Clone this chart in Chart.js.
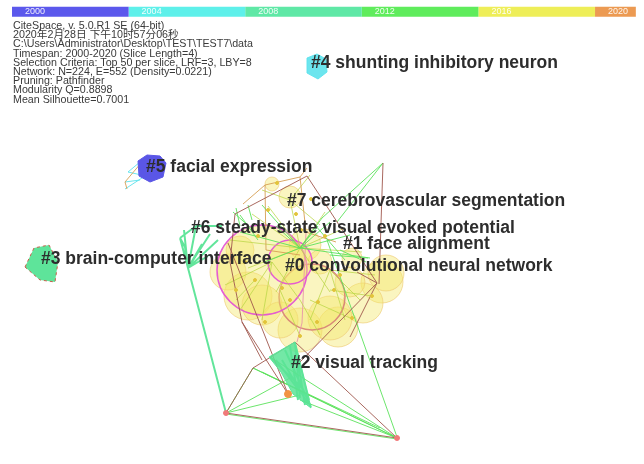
<!DOCTYPE html>
<html>
<head>
<meta charset="utf-8">
<script src="https://cdn.jsdelivr.net/npm/chart.js@4.4.1/dist/chart.umd.min.js"></script>
<style>
  html, body { margin: 0; padding: 0; background: #ffffff; }
  #wrap { width: 644px; height: 464px; }
</style>
</head>
<body>
<div id="wrap"><canvas id="net" width="644" height="464"></canvas></div>
<script>
// ── Time slices (header strip) ────────────────────────────────────────────────
const sliceYears  = [2000, 2004, 2008, 2012, 2016, 2020];
const sliceEnds   = [2004, 2008, 2012, 2016, 2020, 2021.4];
const sliceColors = ['#5b58ec', '#5ef0ea', '#5fe8a6', '#5fec5c', '#eeee58', '#ec9a52'];

// ── Run summary ───────────────────────────────────────────────────────────────
const infoLines = [
  'CiteSpace, v. 5.0.R1 SE (64-bit)',
  '2020年2月28日 下午10时57分06秒',
  'C:\\Users\\Administrator\\Desktop\\TEST\\TEST7\\data',
  'Timespan: 2000-2020 (Slice Length=4)',
  'Selection Criteria: Top 50 per slice, LRF=3, LBY=8',
  'Network: N=224, E=552 (Density=0.0221)',
  'Pruning: Pathfinder',
  'Modularity Q=0.8898',
  'Mean Silhouette=0.7001',
];

// ── Cluster labels: [text, layout x, layout y] ───────────────────────────────
const clusterLabels = [
  ['#4 shunting inhibitory neuron', 311, 63],
  ['#5 facial expression', 146, 167],
  ['#7 cerebrovascular segmentation', 287, 201],
  ['#6 steady-state visual evoked potential', 191, 228],
  ['#1 face alignment', 343, 244],
  ['#3 brain-computer interface', 41, 259],
  ['#0 convolutional neural network', 285, 266],
  ['#2 visual tracking', 291, 363],
];

// ── Cluster hulls (layout coordinates) ───────────────────────────────────────
const hull4 = [[307, 58], [317, 54], [326, 59], [327, 72], [318, 79], [307, 73]];
const hull5 = [[138, 161], [147, 155], [160, 156], [166, 163], [163, 177], [150, 182], [139, 176]];
const hull3 = [[25, 267], [34, 248], [49, 245], [58, 262], [55, 282], [40, 280]];
const hull2 = [[269, 357], [295, 342], [311, 408], [293, 394], [281, 372]];

// ── Co-citation nodes: [x, y, size] ──────────────────────────────────────────
const nodesMagenta = [[262, 270, 45], [290, 262, 22]];
const nodesRose    = [[312, 297, 33]];
const nodesYellow  = [
  [382, 282, 21], [363, 303, 20], [338, 327, 20], [300, 330, 22], [330, 318, 22],
  [248, 296, 24], [386, 273, 18], [290, 197, 11], [272, 184, 7], [305, 245, 16],
  [350, 282, 15], [228, 272, 18], [320, 262, 12], [262, 305, 20], [352, 258, 10],
  [280, 320, 18], [240, 250, 14],
];
const nodesSmall   = [
  [277, 183], [268, 210], [296, 214], [311, 199], [301, 230], [258, 236], [325, 236],
  [245, 262], [282, 288], [318, 302], [340, 275], [265, 322], [300, 336], [372, 296],
  [236, 290], [290, 300], [352, 318], [317, 322], [255, 280], [334, 290],
];
const nodesRed     = [[226, 413], [397, 438]];
const nodesOrange  = [[288, 394]];

// ── Links: [x1, y1, x2, y2] ───────────────────────────────────────────────────
const linksBrown = [
  [235, 214, 307, 176], [307, 176, 377, 283], [383, 163, 379, 284], [377, 283, 350, 337],
  [357, 272, 377, 283], [235, 214, 230, 262], [230, 262, 242, 322], [242, 322, 288, 394],
  [228, 243, 288, 394], [295, 342, 253, 368], [295, 342, 397, 438], [226, 413, 397, 438],
  [377, 283, 300, 362], [253, 368, 226, 413], [242, 322, 262, 360],
];
const linksGreen = [
  [383, 163, 337, 222], [383, 163, 322, 218], [226, 413, 253, 368], [253, 368, 397, 438],
  [253, 368, 380, 428], [262, 372, 397, 438], [226, 413, 290, 378], [226, 413, 300, 395],
  [226, 414, 397, 439], [327, 240, 397, 437], [270, 357, 397, 438], [300, 400, 397, 438],
  [300, 248, 262, 205], [300, 248, 350, 235], [300, 248, 370, 258], [300, 248, 240, 232],
  [300, 248, 322, 218], [265, 262, 300, 248], [330, 255, 368, 258], [340, 250, 366, 262],
  [233, 212, 253, 230], [240, 215, 258, 240], [315, 225, 345, 260], [300, 248, 330, 222],
  [300, 248, 318, 226], [248, 205, 252, 220], [236, 208, 240, 226], [300, 248, 276, 226],
];
const linksMint = [
  [188, 268, 226, 413], [188, 268, 180, 238], [188, 268, 184, 230], [188, 268, 196, 226],
  [188, 268, 210, 234], [188, 268, 185, 247], [188, 268, 202, 244], [188, 268, 208, 256],
  [188, 268, 218, 240], [180, 238, 196, 226], [196, 226, 222, 226], [185, 247, 180, 238],
  [295, 343, 305, 405], [295, 343, 309, 400], [295, 343, 300, 398], [282, 360, 308, 404],
  [276, 360, 300, 392], [285, 350, 311, 407], [270, 357, 302, 388], [290, 346, 298, 400],
];
const linksOlive = [
  [265, 185, 300, 177], [300, 177, 307, 168], [265, 185, 266, 250], [300, 177, 306, 232],
  [265, 185, 243, 204], [266, 250, 300, 255], [147, 156, 125, 182], [125, 182, 127, 189],
  [306, 232, 336, 242],
];
const linksCyan = [
  [125, 189, 145, 176], [128, 172, 146, 176], [125, 182, 140, 180], [128, 172, 140, 162],
];
const linksLime = [
  [300, 248, 252, 214], [300, 248, 268, 206], [300, 248, 325, 212], [300, 248, 345, 228],
  [300, 248, 362, 252], [300, 248, 330, 292], [300, 248, 276, 292], [300, 248, 248, 268],
  [300, 248, 230, 240], [272, 262, 225, 285], [272, 262, 240, 310], [272, 262, 262, 320],
  [272, 262, 300, 300], [330, 270, 360, 300], [330, 270, 345, 320], [330, 270, 375, 275],
  [330, 270, 310, 320], [290, 200, 300, 248], [290, 200, 262, 190], [290, 200, 310, 175],
  [290, 200, 320, 225], [310, 300, 350, 318], [300, 300, 320, 335], [255, 280, 236, 300],
  [330, 290, 372, 296], [280, 290, 300, 336],
];
const linksPink = [[302, 323, 297, 342], [306, 232, 302, 323]];

// ── Helpers ───────────────────────────────────────────────────────────────────
const STRIP_Y = 11.7;
const FONT = '"Liberation Sans", Arial, "Noto Sans CJK SC", sans-serif';

function pts(list) {
  return list.map(([x, y]) => ({ x, y }));
}

function ring(list) {
  return pts(list.concat([list[0]]));
}

// one dataset per colour; NaN rows break the path between links
function links(list, color, width = 1) {
  const data = [];
  list.forEach(([x1, y1, x2, y2]) => {
    data.push({ x: x1, y: y1 }, { x: x2, y: y2 }, { x: NaN, y: NaN });
  });
  return {
    type: 'line', data, borderColor: color, borderWidth: width,
    pointRadius: 0, spanGaps: false, fill: false, tension: 0, order: 30,
  };
}

function hull(list, fillColor, lineColor, dash = []) {
  return {
    type: 'line', data: ring(list), backgroundColor: fillColor, borderColor: lineColor,
    borderWidth: 1, borderDash: dash, pointRadius: 0, fill: 'shape', tension: 0, order: 20,
  };
}

function bubbles(list, fillColor, lineColor, width) {
  return {
    type: 'bubble', data: list.map(([x, y, r]) => ({ x, y, r })),
    backgroundColor: fillColor, borderColor: lineColor, borderWidth: width, order: 40,
  };
}

function dots(list, color, radius) {
  return {
    type: 'scatter', data: pts(list), backgroundColor: color, borderColor: color,
    pointRadius: radius, order: 5,
  };
}

const stripSets = sliceYears.map((yr, i) => ({
  type: 'line', xAxisID: 'yr',
  data: [{ x: yr, y: STRIP_Y }, { x: sliceEnds[i], y: STRIP_Y }],
  borderColor: sliceColors[i], borderWidth: 10, borderCapStyle: 'butt',
  pointRadius: 0, fill: false, order: 1,
}));

const networkText = {
  id: 'networkText',
  afterDatasetsDraw(chart) {
    const { ctx } = chart;
    const { x, y, yr } = chart.scales;
    ctx.save();
    ctx.textBaseline = 'middle';

    ctx.font = '9px ' + FONT;
    ctx.fillStyle = 'rgba(255,255,255,0.9)';
    sliceYears.forEach((v) => ctx.fillText(String(v), yr.getPixelForValue(v) + 13, y.getPixelForValue(STRIP_Y)));

    ctx.font = '10.7px ' + FONT;
    ctx.fillStyle = '#3a3a3a';
    infoLines.forEach((t, i) => ctx.fillText(t, 13, 26 + i * 9.2));

    ctx.font = 'bold 17.5px ' + FONT;
    ctx.fillStyle = '#2d2d2d';
    clusterLabels.forEach(([t, lx, ly]) => ctx.fillText(t, x.getPixelForValue(lx), y.getPixelForValue(ly)));
    ctx.restore();
  },
};

new Chart(document.getElementById('net'), {
  type: 'scatter',
  data: {
    datasets: [
      ...stripSets,
      dots(nodesRed, '#f07a7a', 2.5),
      dots(nodesOrange, '#f29444', 3.5),
      dots(nodesSmall, '#e2c43a', 1.5),
      hull(hull4, 'rgba(92,226,236,0.9)', 'rgba(92,226,236,0.9)'),
      hull(hull5, '#5a56e6', '#5a56e6'),
      hull(hull3, '#5ee49a', '#c8604c', [3, 3]),
      hull(hull2, 'rgba(90,228,150,0.85)', '#5ee49a'),
      links(linksBrown, 'rgba(160,88,78,0.9)'),
      links(linksGreen, 'rgba(92,226,92,0.9)'),
      links(linksMint, 'rgba(90,228,150,0.95)', 2),
      links(linksOlive, 'rgba(214,160,84,0.9)'),
      links(linksCyan, 'rgba(92,226,236,0.9)'),
      links(linksLime, 'rgba(186,214,70,0.75)'),
      links(linksPink, 'rgba(232,150,168,0.9)'),
      bubbles(nodesMagenta, 'rgba(244,232,104,0.42)', 'rgba(226,76,214,0.9)', 1.5),
      bubbles(nodesRose, 'rgba(244,232,104,0.42)', 'rgba(214,128,118,0.9)', 1.5),
      bubbles(nodesYellow, 'rgba(244,232,104,0.42)', 'rgba(236,200,110,0.6)', 1),
    ],
  },
  options: {
    responsive: false,
    animation: false,
    events: [],
    layout: { padding: 0, autoPadding: false },
    plugins: { legend: { display: false }, tooltip: { enabled: false } },
    scales: {
      x:  { type: 'linear', min: 0, max: 644, display: false },
      y:  { type: 'linear', min: 0, max: 464, reverse: true, display: false },
      yr: { type: 'linear', axis: 'x', min: 1999.588, max: 2021.68, display: false },
    },
  },
  plugins: [networkText],
});
</script>
</body>
</html>
